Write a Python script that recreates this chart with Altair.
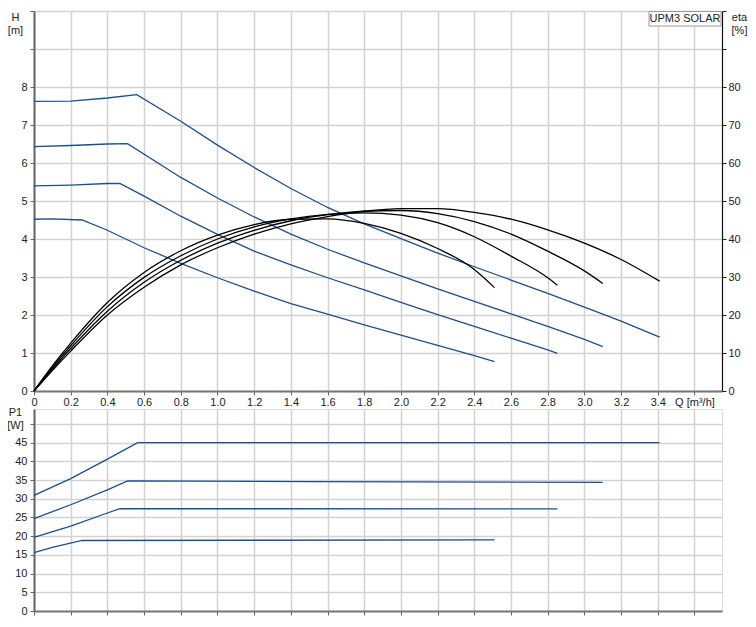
import altair as alt
import pandas as pd

# ---------------- data ----------------
# Head curves H [m] vs Q [m3/h]
Q_H1 = [0, 0.2, 0.4, 0.56, 0.8, 1.0, 1.2, 1.4, 1.6, 1.8, 2.0, 2.2, 2.4, 2.6, 2.8, 3.0, 3.2, 3.41]
H_H1 = [7.62, 7.63, 7.71, 7.80, 7.10, 6.47, 5.88, 5.33, 4.83, 4.40, 4.01, 3.63, 3.27, 2.92, 2.57, 2.21, 1.84, 1.42]
Q_H2 = [0, 0.2, 0.4, 0.51, 0.8, 1.0, 1.2, 1.4, 1.6, 1.8, 2.0, 2.2, 2.4, 2.6, 2.8, 3.0, 3.1]
H_H2 = [6.43, 6.46, 6.50, 6.51, 5.62, 5.08, 4.58, 4.13, 3.73, 3.37, 3.03, 2.69, 2.36, 2.03, 1.70, 1.36, 1.17]
Q_H3 = [0, 0.2, 0.4, 0.468, 0.6, 0.8, 1.0, 1.2, 1.4, 1.6, 1.8, 2.0, 2.2, 2.4, 2.6, 2.8, 2.853]
H_H3 = [5.40, 5.42, 5.46, 5.46, 5.13, 4.60, 4.12, 3.68, 3.32, 2.98, 2.66, 2.33, 2.01, 1.70, 1.39, 1.08, 0.99]
Q_H4 = [0, 0.1, 0.262, 0.4, 0.6, 0.8, 1.0, 1.2, 1.4, 1.6, 1.8, 2.0, 2.2, 2.4, 2.51]
H_H4 = [4.52, 4.53, 4.50, 4.23, 3.77, 3.36, 2.98, 2.63, 2.30, 2.02, 1.74, 1.47, 1.20, 0.93, 0.77]

# Efficiency curves eta [%] vs Q
Q_E1 = [0, 0.1, 0.2, 0.4, 0.6, 0.8, 1.0, 1.2, 1.4, 1.6, 1.8, 2.0, 2.2, 2.4, 2.51]
E_E1 = [0, 6.6, 12.6, 23.3, 31.2, 36.9, 41.0, 43.8, 45.2, 45.3, 44.1, 41.5, 37.5, 32.0, 27.2]
Q_E2 = [0, 0.1, 0.2, 0.4, 0.6, 0.8, 1.0, 1.2, 1.4, 1.6, 1.8, 2.0, 2.2, 2.4, 2.6, 2.8, 2.853]
E_E2 = [0, 6.2, 11.9, 22.2, 29.9, 35.6, 40.0, 43.2, 45.3, 46.5, 46.9, 46.3, 44.3, 40.6, 35.5, 29.8, 27.8]
Q_E3 = [0, 0.1, 0.2, 0.4, 0.6, 0.8, 1.0, 1.2, 1.4, 1.6, 1.8, 2.0, 2.2, 2.4, 2.6, 2.8, 3.0, 3.1]
E_E3 = [0, 5.8, 11.2, 21.0, 28.6, 34.4, 38.9, 42.3, 44.8, 46.4, 47.3, 47.5, 46.7, 44.6, 41.3, 36.8, 31.6, 28.3]
Q_E4 = [0, 0.1, 0.2, 0.4, 0.6, 0.8, 1.0, 1.2, 1.4, 1.6, 1.8, 2.0, 2.2, 2.4, 2.6, 2.8, 3.0, 3.2, 3.41]
E_E4 = [0, 5.4, 10.5, 20.0, 27.3, 33.2, 37.7, 41.3, 44.0, 45.9, 47.3, 48.0, 48.0, 47.0, 45.2, 42.4, 38.9, 34.6, 28.9]

# Power curves P1 [W] vs Q
Q_P1 = [0, 0.2, 0.4, 0.565, 3.41]
P_P1 = [30.9, 35.4, 40.6, 45.0, 45.0]
Q_P2 = [0, 0.2, 0.4, 0.51, 1.5, 3.1]
P_P2 = [24.7, 28.4, 32.4, 34.8, 34.6, 34.4]
Q_P3 = [0, 0.2, 0.4, 0.468, 2.853]
P_P3 = [19.7, 22.7, 26.2, 27.35, 27.3]
Q_P4 = [0, 0.1, 0.262, 2.51]
P_P4 = [15.6, 17.0, 18.85, 19.0]

Q_TICKS = [0, 0.2, 0.4, 0.6, 0.8, 1.0, 1.2, 1.4, 1.6, 1.8, 2.0, 2.2, 2.4, 2.6, 2.8, 3.0, 3.2, 3.4, 3.6]
H_TICKS = [0, 1, 2, 3, 4, 5, 6, 7, 8, 9, 10]
ETA_TICKS = [0, 10, 20, 30, 40, 50, 60, 70, 80, 90, 100]
P_TICKS = [0, 5, 10, 15, 20, 25, 30, 35, 40, 45, 50]
LEGEND_TEXT = "UPM3 SOLAR"


def long(name, qs, vs, col):
    return pd.DataFrame({"series": name, "Q": qs, col: vs, "i": range(len(qs))})


h_df = pd.concat([long("s1", Q_H1, H_H1, "H"), long("s2", Q_H2, H_H2, "H"),
                  long("s3", Q_H3, H_H3, "H"), long("s4", Q_H4, H_H4, "H")])
e_df = pd.concat([long("s1", Q_E1, E_E1, "eta"), long("s2", Q_E2, E_E2, "eta"),
                  long("s3", Q_E3, E_E3, "eta"), long("s4", Q_E4, E_E4, "eta")])
p_df = pd.concat([long("s1", Q_P1, P_P1, "P"), long("s2", Q_P2, P_P2, "P"),
                  long("s3", Q_P3, P_P3, "P"), long("s4", Q_P4, P_P4, "P")])

BLUE = "#1b4f8d"
GRID = "#d2d2d2"
W = 688
FONT = "Liberation Sans"

xscale = alt.Scale(domain=[0, 3.75], nice=False, zero=False)

x_top_axis = alt.Axis(values=Q_TICKS, grid=True, gridColor=GRID, gridWidth=1.5,
                      labelExpr="datum.value == 0 ? '0' : (datum.value > 3.5 ? 'Q [m³/h]' : format(datum.value, '.1f'))",
                      labelFlush=False, labelOverlap=False, labelPadding=1, tickSize=4, tickColor="#666",
                      domainColor="#777", domainWidth=2, labelColor="#222", labelFontSize=11, title=None)

h_axis = alt.Axis(values=H_TICKS, grid=True, gridColor=GRID, gridWidth=1.5,
                  labelExpr="datum.value <= 8 ? datum.label : ''", tickSize=4, tickColor="#666",
                  labelPadding=3, domainColor="#666", domainWidth=2, labelColor="#222", labelFontSize=11,
                  title=["H", "[m]"], titleAngle=0, titleX=-19, titleY=0, titleAlign="center",
                  titleBaseline="top", titleFontWeight="normal", titleFontSize=11, titleColor="#222",
                  titleLineHeight=13)

eta_axis = alt.Axis(values=ETA_TICKS, grid=False, orient="right",
                    labelExpr="datum.value <= 80 ? datum.label : ''", tickSize=4, tickColor="#222",
                    labelPadding=2, domainColor="#111", domainWidth=1.2, labelColor="#222", labelFontSize=11,
                    title=["eta", "[%]"], titleAngle=0, titleX=17, titleY=0, titleAlign="center",
                    titleBaseline="top", titleFontWeight="normal", titleFontSize=11, titleColor="#222",
                    titleLineHeight=13)

h_lines = alt.Chart(h_df).mark_line(color=BLUE, strokeWidth=1.3).encode(
    x=alt.X("Q:Q", scale=xscale, axis=x_top_axis),
    y=alt.Y("H:Q", scale=alt.Scale(domain=[0, 10], nice=False), axis=h_axis),
    detail="series:N", order="i:Q")

e_lines = alt.Chart(e_df).mark_line(color="#000000", strokeWidth=1.3, interpolate="monotone").encode(
    x=alt.X("Q:Q", scale=xscale, axis=x_top_axis),
    y=alt.Y("eta:Q", scale=alt.Scale(domain=[0, 100], nice=False), axis=eta_axis),
    detail="series:N", order="i:Q")

legend_df = pd.DataFrame({"label": [LEGEND_TEXT]})
legend_box = alt.Chart(legend_df).mark_rect(fill="white", stroke="#999", strokeWidth=1).encode(
    x=alt.value(615), x2=alt.value(687), y=alt.value(0.5), y2=alt.value(15))
legend_txt = alt.Chart(legend_df).mark_text(fontSize=11, font=FONT, color="#222", baseline="middle").encode(
    x=alt.value(651), y=alt.value(8), text="label:N")

top = alt.layer(h_lines, e_lines, legend_box, legend_txt).resolve_scale(y="independent").properties(
    width=W, height=380)

x_bot_axis = alt.Axis(values=Q_TICKS, grid=True, gridColor=GRID, gridWidth=1.5, labels=False,
                      tickSize=4, tickColor="#666", domainColor="#777", domainWidth=2, title=None)
p_axis = alt.Axis(values=P_TICKS, grid=True, gridColor=GRID, gridWidth=1.5,
                  labelExpr="datum.value <= 45 ? datum.label : ''", tickSize=4, tickColor="#666",
                  labelPadding=3, domainColor="#666", domainWidth=2, labelColor="#222", labelFontSize=11,
                  title=["P1", "[W]"], titleAngle=0, titleX=-19, titleY=-3, titleAlign="center",
                  titleBaseline="top", titleFontWeight="normal", titleFontSize=11, titleColor="#222",
                  titleLineHeight=13)

bottom = alt.Chart(p_df).mark_line(color=BLUE, strokeWidth=1.3).encode(
    x=alt.X("Q:Q", scale=xscale, axis=x_bot_axis),
    y=alt.Y("P:Q", scale=alt.Scale(domain=[0, 54], nice=False), axis=p_axis),
    detail="series:N", order="i:Q").properties(width=W, height=202)

chart = alt.vconcat(top, bottom, spacing=-3).properties(
    padding={"left": -2, "top": 2, "right": 0, "bottom": 0}
).configure_view(stroke="#8a8a8a", strokeWidth=1.5).configure_axis(
    labelFont=FONT, titleFont=FONT
).configure(background="white")

chart.save("out.html", embed_options={"renderer": "svg", "actions": False})
